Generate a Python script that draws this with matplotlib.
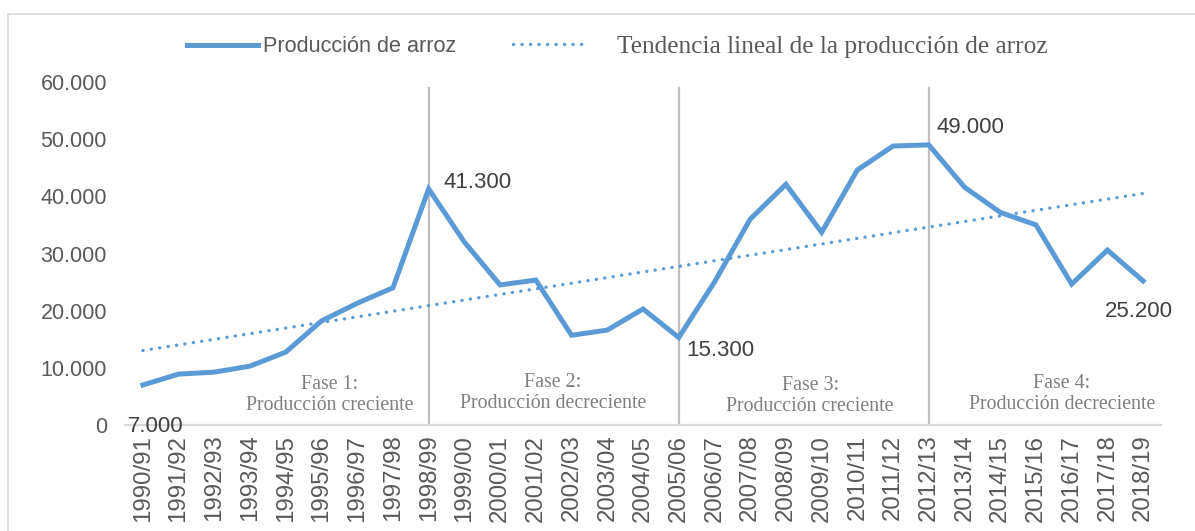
import numpy as np
import matplotlib.pyplot as plt
from matplotlib.patches import Rectangle
from matplotlib.ticker import FuncFormatter

campanas = ["1990/91", "1991/92", "1992/93", "1993/94", "1994/95", "1995/96",
            "1996/97", "1997/98", "1998/99", "1999/00", "2000/01", "2001/02",
            "2002/03", "2003/04", "2004/05", "2005/06", "2006/07", "2007/08",
            "2008/09", "2009/10", "2010/11", "2011/12", "2012/13", "2013/14",
            "2014/15", "2015/16", "2016/17", "2017/18", "2018/19"]
produccion = [7000, 8900, 9250, 10300, 12750, 18200, 21300, 24000, 41300,
              32000, 24500, 25350, 15700, 16600, 20300, 15300, 25000, 36000,
              42100, 33700, 44600, 48800, 49000, 41600, 37200, 35000, 24650,
              30600, 25200]
# limites de fase (indice de campaña)
cortes = ["1998/99", "2005/06", "2012/13"]
fases = ["Fase 1:\nProducción creciente", "Fase 2:\nProducción decreciente",
         "Fase 3:\nProducción creciente", "Fase 4:\nProducción decreciente"]
fase_x = [5.24, 11.48, 18.68, 25.73]
fase_y = [5300, 5600, 5000, 5500]
# etiquetas de valor: campaña, desplazamiento en pixeles
etiquetas = [("1990/91", -15, -42), ("1998/99", 15, 6), ("2005/06", 8, -13),
             ("2012/13", 8, 17), ("2018/19", -38, -31)]

azul = "#5B9BD5"
gris = "#595959"

fig = plt.figure(figsize=(11.95, 5.31), dpi=100)
fig.patches.append(Rectangle((8 / 1195, -0.05), 1.1, 1.05 - 14 / 531, transform=fig.transFigure,
                             fill=False, edgecolor="#D9D9D9", lw=1.2))
ax = fig.add_axes([125 / 1195, 1 - 425 / 531, (1161 - 125) / 1195, (425 - 82) / 531])

x = np.arange(len(campanas))
linea, = ax.plot(x, produccion, color=azul, lw=3.6, solid_joinstyle="miter", zorder=3)
coef = np.polyfit(x, produccion, 1)
tend, = ax.plot(x, np.polyval(coef, x), color=azul, lw=2.4, linestyle=(0, (0.05, 2.5)),
                dash_capstyle="round", zorder=2)

for c in cortes:
    ax.plot([campanas.index(c)] * 2, [0, 59000], color="#BFBFBF", lw=1.6, zorder=1)

for t, fx, fy in zip(fases, fase_x, fase_y):
    ax.text(fx, fy, t, ha="center", va="center", fontsize=14.3, color="#7F7F7F",
            family="Liberation Serif", linespacing=1.15)

for c, dx, dy in etiquetas:
    i = campanas.index(c)
    ax.annotate(f"{produccion[i]:,}".replace(",", "."), (i, produccion[i]),
                xytext=(dx, dy), textcoords="offset pixels", ha="left", va="center",
                fontsize=16, color="#404040", family="Liberation Sans", annotation_clip=False)

ax.set_xlim(-0.5, len(campanas) - 0.5)
ax.set_ylim(0, 60000)
ax.set_yticks(range(0, 60001, 10000))
ax.yaxis.set_major_formatter(FuncFormatter(lambda v, p: f"{int(v):,}".replace(",", ".")))
ax.set_xticks(x)
ax.set_xticklabels(campanas, rotation=90, fontsize=17.3, color=gris, family="Liberation Sans")
for lab in ax.get_yticklabels():
    lab.set_fontsize(15.5)
    lab.set_color(gris)
    lab.set_family("Liberation Sans")
ax.tick_params(length=0, pad=7)
ax.tick_params(axis="y", pad=13)
for s in ["top", "right", "left"]:
    ax.spines[s].set_visible(False)
ax.spines["bottom"].set_color("#D9D9D9")
ax.spines["bottom"].set_linewidth(1.6)

# leyenda en dos piezas para ajustar separaciones
ley_y = 1 - 47 / 531
leg1 = fig.legend([linea], ["Producción de arroz"], loc="center left",
                  bbox_to_anchor=(187 / 1195, ley_y), frameon=False, borderpad=0,
                  borderaxespad=0, prop={"family": "Liberation Sans", "size": 15.6},
                  handlelength=3.28, handletextpad=0.23, labelcolor=gris)
leg2 = fig.legend([tend], ["Tendencia lineal de la producción de arroz"], loc="center left",
                  bbox_to_anchor=(513 / 1195, ley_y), frameon=False, borderpad=0,
                  borderaxespad=0, prop={"family": "Liberation Serif", "size": 18.3},
                  handlelength=2.95, handletextpad=1.14, labelcolor=gris)

fig.savefig("out.png", dpi=100)
